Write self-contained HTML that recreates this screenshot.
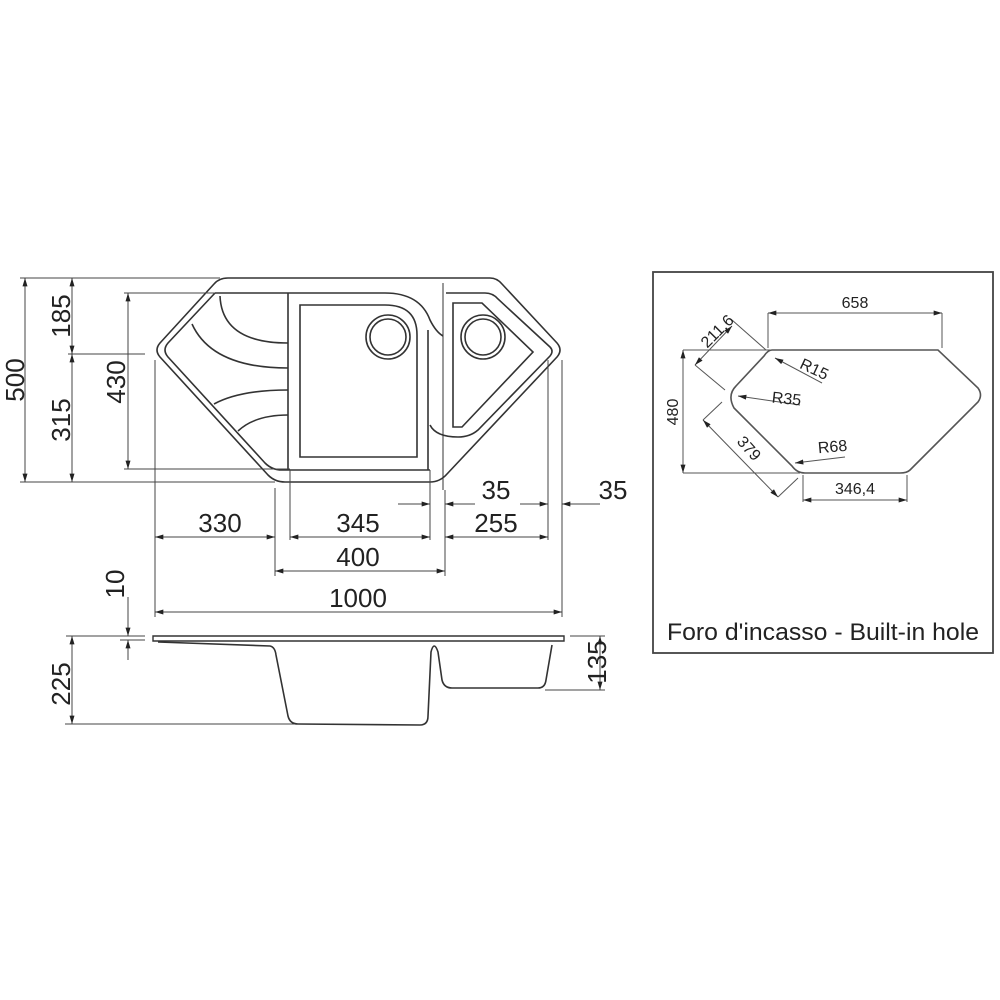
<!DOCTYPE html>
<html><head><meta charset="utf-8"><style>
html,body{margin:0;padding:0;background:#fff}
svg{display:block}
text{font-family:"Liberation Sans Narrow","Liberation Sans",sans-serif;fill:#222}
</style></head><body>
<svg width="1000" height="1000" viewBox="0 0 1000 1000" xmlns="http://www.w3.org/2000/svg">
<defs>
<marker id="a" viewBox="0 0 10 6" refX="10" refY="3" markerWidth="10" markerHeight="5" orient="auto-start-reverse" markerUnits="userSpaceOnUse"><path d="M0,0L10,3L0,6z" fill="#222"/></marker>
</defs>
<g fill="none" stroke="#333" stroke-width="1.6">
<path d="M228,278 L490,278 Q497,278 502,284 L557,343 Q563,350 557,357 L447,474 Q440,482 430,482 L285,482 Q275,482 268,475 L160,357 Q154,350 160,343 L214,284 Q219,278 228,278Z"/>
<path d="M215,293 L385,293 Q420,293 430,320 Q436,332 443,336"/>
<path d="M215,293 L168,343 Q162,350 168,357 L265,463 Q272,470 282,470 L430,470"/>
<line x1="288" y1="293" x2="288" y2="470"/>
<line x1="428" y1="330" x2="428" y2="470"/>
<path d="M300,305 L385,305 Q417,305 417,335 L417,457 L300,457Z"/>
<circle cx="388" cy="337" r="22"/><circle cx="388" cy="337" r="18"/>
<path d="M220,296 Q222,343 288,343"/>
<path d="M192,324 Q212,368 288,368"/>
<path d="M214,404 Q240,390 288,390"/>
<path d="M238,431 Q255,415 288,415"/>
<path d="M446,293 L485,293 Q493,293 498,299 L550,347 Q554,351 550,356 L478,430 Q470,437 458,437 Q436,437 430,425"/>
<line x1="443" y1="283" x2="443" y2="490" stroke-width="1"/>
<path d="M453,303 L482,303 L533,352 L462,427 L453,427Z"/>
<circle cx="483" cy="337" r="22"/><circle cx="483" cy="337" r="18"/>
</g>
<g stroke="#444" stroke-width="1" fill="none">
<line x1="20" y1="278" x2="220" y2="278"/>
<line x1="20" y1="482" x2="275" y2="482"/>
<line x1="68" y1="354" x2="145" y2="354"/>
<line x1="124" y1="293" x2="215" y2="293"/>
<line x1="124" y1="469" x2="290" y2="469"/>
<line x1="25" y1="278" x2="25" y2="482" marker-start="url(#a)" marker-end="url(#a)"/>
<line x1="72" y1="278" x2="72" y2="354" marker-start="url(#a)" marker-end="url(#a)"/>
<line x1="72" y1="354" x2="72" y2="482" marker-start="url(#a)" marker-end="url(#a)"/>
<line x1="128" y1="293" x2="128" y2="469" marker-start="url(#a)" marker-end="url(#a)"/>
<line x1="155" y1="360" x2="155" y2="617"/>
<line x1="275" y1="488" x2="275" y2="576"/>
<line x1="290" y1="470" x2="290" y2="540"/>
<line x1="430" y1="470" x2="430" y2="540"/>
<line x1="445" y1="490" x2="445" y2="576"/>
<line x1="548" y1="360" x2="548" y2="540"/>
<line x1="562" y1="360" x2="562" y2="617"/>
<line x1="155" y1="537" x2="275" y2="537" marker-start="url(#a)" marker-end="url(#a)"/>
<line x1="290" y1="537" x2="430" y2="537" marker-start="url(#a)" marker-end="url(#a)"/>
<line x1="445" y1="537" x2="548" y2="537" marker-start="url(#a)" marker-end="url(#a)"/>
<line x1="275" y1="571" x2="445" y2="571" marker-start="url(#a)" marker-end="url(#a)"/>
<line x1="155" y1="612" x2="562" y2="612" marker-start="url(#a)" marker-end="url(#a)"/>
<line x1="398" y1="504" x2="430" y2="504" marker-end="url(#a)"/>
<line x1="475" y1="504" x2="445" y2="504" marker-end="url(#a)"/>
<line x1="520" y1="504" x2="548" y2="504" marker-end="url(#a)"/>
<line x1="600" y1="504" x2="562" y2="504" marker-end="url(#a)"/>
<line x1="128" y1="597" x2="128" y2="636" marker-end="url(#a)"/>
<line x1="128" y1="660" x2="128" y2="640" marker-end="url(#a)"/>
<line x1="120" y1="636" x2="145" y2="636"/>
<line x1="120" y1="640" x2="145" y2="640"/>
<line x1="72" y1="636" x2="72" y2="724" marker-start="url(#a)" marker-end="url(#a)"/>
<line x1="65" y1="724" x2="310" y2="724"/>
<line x1="66" y1="636" x2="145" y2="636"/>
<line x1="600" y1="636" x2="600" y2="690" marker-start="url(#a)" marker-end="url(#a)"/>
<line x1="570" y1="636" x2="605" y2="636"/>
<line x1="545" y1="690" x2="605" y2="690"/>
</g>
<g fill="none" stroke="#333" stroke-width="1.6">
<path d="M153,636 L564,636 L564,641 L153,641Z" stroke-width="1.4"/>
<path d="M158,642 L270,646 Q275,647 276,655 L288,716 Q290,724 298,724 L420,725 Q428,725 428,716 L431,652 Q434,640 438,652 L442,680 Q444,688 452,688 L538,688 Q545,688 546,680 L552,645"/>
</g>
<g font-size="26">
<text transform="translate(24,380) rotate(-90)" text-anchor="middle">500</text>
<text transform="translate(70,316) rotate(-90)" text-anchor="middle">185</text>
<text transform="translate(70,420) rotate(-90)" text-anchor="middle">315</text>
<text transform="translate(125,382) rotate(-90)" text-anchor="middle">430</text>
<text x="220" y="532" text-anchor="middle">330</text>
<text x="358" y="532" text-anchor="middle">345</text>
<text x="496" y="532" text-anchor="middle">255</text>
<text x="496" y="499" text-anchor="middle">35</text>
<text x="613" y="499" text-anchor="middle">35</text>
<text x="358" y="566" text-anchor="middle">400</text>
<text x="358" y="607" text-anchor="middle">1000</text>
<text transform="translate(124,584) rotate(-90)" text-anchor="middle">10</text>
<text transform="translate(70,684) rotate(-90)" text-anchor="middle">225</text>
<text transform="translate(606,662) rotate(-90)" text-anchor="middle">135</text>
</g>
<rect x="653" y="272" width="340" height="381" fill="none" stroke="#444" stroke-width="1.8"/>
<g fill="none" stroke="#555" stroke-width="1.6">
<path d="M772,350 L938,350 L978,388 Q983,395 978,402 L910,470 Q907,473 900,473 L805,473 Q797,473 792,466 L734,408 Q727,395 736,386 L764,356 Q768,350 772,350Z"/>
</g>
<g stroke="#555" stroke-width="1" fill="none">
<line x1="768" y1="313" x2="942" y2="313" marker-start="url(#a)" marker-end="url(#a)"/>
<line x1="768" y1="313" x2="768" y2="348"/>
<line x1="942" y1="313" x2="942" y2="348"/>
<line x1="683" y1="350" x2="683" y2="473" marker-start="url(#a)" marker-end="url(#a)"/>
<line x1="683" y1="350" x2="770" y2="350"/>
<line x1="683" y1="473" x2="800" y2="473"/>
<line x1="803" y1="500" x2="907" y2="500" marker-start="url(#a)" marker-end="url(#a)"/>
<line x1="803" y1="475" x2="803" y2="502"/>
<line x1="907" y1="475" x2="907" y2="502"/>
<line x1="695" y1="365" x2="732" y2="326" marker-start="url(#a)" marker-end="url(#a)"/>
<line x1="732" y1="320" x2="766" y2="350"/>
<line x1="695" y1="365" x2="725" y2="390"/>
<line x1="703" y1="420" x2="778" y2="497" marker-start="url(#a)" marker-end="url(#a)"/>
<line x1="703" y1="420" x2="722" y2="402"/>
<line x1="778" y1="497" x2="798" y2="478"/>
<line x1="822" y1="383" x2="775" y2="358" marker-end="url(#a)"/>
<line x1="800" y1="405" x2="738" y2="396" marker-end="url(#a)"/>
<line x1="845" y1="457" x2="795" y2="463" marker-end="url(#a)"/>
</g>
<g font-size="16" font-family="Liberation Sans,sans-serif">
<text x="855" y="308" text-anchor="middle">658</text>
<text transform="translate(678,412) rotate(-90)" text-anchor="middle">480</text>
<text transform="translate(721,335) rotate(-45)" text-anchor="middle">211,6</text>
<text transform="translate(745,452) rotate(48)" text-anchor="middle">379</text>
<text x="855" y="494" text-anchor="middle">346,4</text>
<text transform="translate(812,374) rotate(25)" text-anchor="middle">R15</text>
<text transform="translate(786,404) rotate(6)" text-anchor="middle">R35</text>
<text transform="translate(833,452) rotate(-5)" text-anchor="middle">R68</text>
</g>
<text x="667" y="640" font-size="24" textLength="312" lengthAdjust="spacingAndGlyphs">Foro d'incasso - Built-in hole</text>
</svg>
</body></html>
